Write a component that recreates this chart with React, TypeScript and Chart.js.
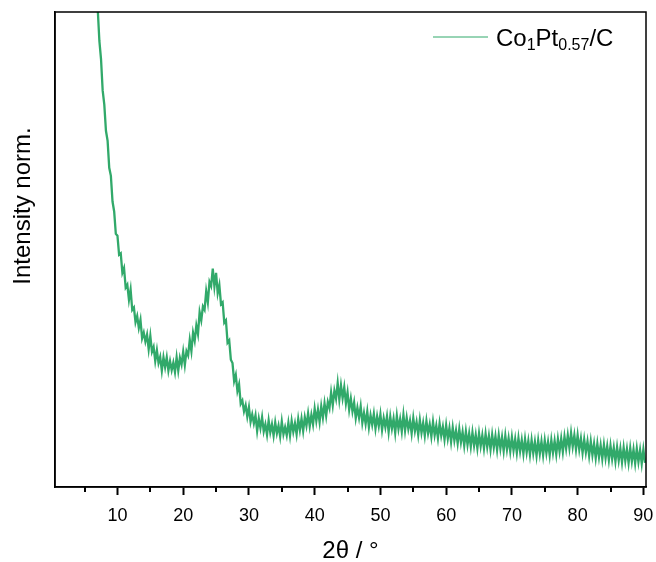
import React, { useEffect, useRef } from 'react';
import { Chart, registerables } from 'chart.js';

Chart.register(...registerables);

// 2θ sampling grid (degrees)
const TWO_THETA_START = 6.75;
const TWO_THETA_STEP = 0.25;

// Normalised intensity, one value per 0.25° step from 6.75°
const INTENSITY: number[] = [
  105.5,
  100.6, 93.9, 90.1, 83.5, // 7
  80.5, 75.0, 72.9, 67.2, // 8
  65.5, 60.1, 58.0, 53.3, // 9
  52.9, 48.9, 49.2, 45.1, // 10
  46.1, 42.0, 42.6, 39.4, // 11
  41.6, 37.3, 37.8, 34.7, // 12
  36.0, 33.5, 35.2, 31.3, // 13
  32.5, 30.6, 32.1, 29.0, // 14
  31.8, 28.5, 29.5, 26.5, // 15
  28.8, 26.1, 27.4, 24.5, // 16
  27.3, 25.2, 27.3, 24.5, // 17
  26.5, 24.6, 26.2, 24.2, // 18
  27.3, 24.5, 27.2, 25.8, // 19
  28.5, 25.7, 28.6, 27.7, // 20
  31.0, 28.6, 32.5, 30.8, // 21
  34.0, 32.2, 36.8, 35.1, // 22
  38.0, 37.3, 41.2, 38.9, // 23
  43.2, 42.3, 46.0, 42.2, // 24
  45.1, 40.8, 42.5, 38.5, // 25
  38.9, 34.6, 35.1, 30.4, // 26
  30.9, 26.8, 26.1, 22.3, // 27
  23.6, 20.2, 21.6, 17.5, // 28
  18.2, 15.9, 17.2, 14.8, // 29
  16.8, 13.7, 15.3, 13.4, // 30
  15.1, 11.8, 14.4, 12.4, // 31
  14.7, 11.7, 13.2, 11.0, // 32
  14.0, 11.5, 13.2, 10.8, // 33
  13.6, 11.3, 12.9, 10.6, // 34
  13.8, 11.1, 12.6, 10.9, // 35
  13.5, 10.8, 13.9, 11.6, // 36
  13.4, 11.1, 14.3, 12.0, // 37
  14.4, 11.8, 14.7, 12.9, // 38
  15.5, 12.8, 15.2, 13.2, // 39
  16.5, 13.9, 16.3, 13.7, // 40
  17.0, 14.6, 17.6, 15.0, // 41
  17.9, 16.6, 19.9, 17.2, // 42
  20.3, 18.6, 21.9, 18.4, // 43
  21.4, 18.7, 21.0, 17.6, // 44
  19.9, 16.3, 18.6, 15.9, // 45
  17.8, 14.5, 16.7, 14.6, // 46
  17.0, 13.5, 15.6, 13.3, // 47
  15.9, 12.6, 15.1, 13.1, // 48
  15.4, 12.3, 14.9, 12.8, // 49
  15.3, 12.0, 14.5, 12.6, // 50
  14.9, 11.6, 14.8, 12.3, // 51
  14.4, 11.4, 15.0, 12.2, // 52
  14.3, 11.7, 15.2, 11.9, // 53
  14.6, 12.2, 14.0, 11.3, // 54
  14.5, 11.8, 13.7, 11.0, // 55
  14.1, 11.4, 13.5, 10.8, // 56
  13.9, 11.3, 13.2, 10.6, // 57
  13.7, 10.9, 12.9, 10.3, // 58
  13.4, 10.8, 12.7, 10.0, // 59
  13.0, 10.2, 12.4, 9.5, // 60
  12.5, 9.8, 11.9, 9.2, // 61
  12.2, 9.4, 11.6, 8.7, // 62
  11.7, 8.9, 11.3, 8.5, // 63
  11.5, 8.7, 11.0, 8.2, // 64
  11.3, 8.6, 10.9, 8.1, // 65
  11.2, 8.4, 10.8, 7.9, // 66
  11.0, 8.3, 10.7, 7.8, // 67
  10.9, 8.1, 10.5, 7.6, // 68
  10.8, 7.9, 10.3, 7.5, // 69
  10.5, 7.7, 10.1, 7.2, // 70
  10.3, 7.5, 9.9, 7.0, // 71
  10.1, 7.3, 9.7, 6.8, // 72
  9.9, 7.1, 9.5, 6.6, // 73
  9.8, 7.0, 9.6, 6.7, // 74
  9.8, 7.1, 9.5, 6.7, // 75
  9.9, 7.2, 9.7, 6.9, // 76
  10.1, 7.5, 10.2, 7.4, // 77
  10.6, 8.1, 10.9, 8.2, // 78
  11.4, 8.5, 10.9, 7.9, // 79
  10.9, 7.9, 10.2, 7.2, // 80
  10.0, 7.3, 9.6, 6.6, // 81
  9.6, 6.7, 9.1, 6.1, // 82
  9.1, 6.3, 8.8, 5.9, // 83
  8.9, 6.1, 8.6, 5.7, // 84
  8.7, 5.9, 8.3, 5.4, // 85
  8.4, 5.6, 8.1, 5.2, // 86
  8.3, 5.5, 8.0, 5.1, // 87
  8.2, 5.4, 7.9, 5.0, // 88
  8.1, 5.3, 7.8, 4.9, // 89
  7.9, 5.1, // 90
];

const X_MIN = 0.5;
const X_MAX = 90.4;
const Y_MIN = 0;
const Y_MAX = 100;
const MAJOR_TICKS = [10, 20, 30, 40, 50, 60, 70, 80, 90];
const MINOR_TICKS = [5, 15, 25, 35, 45, 55, 65, 75, 85];

const X_TITLE = '2θ / °';
const Y_TITLE = 'Intensity norm.';
// legend label parts: [text, isSubscript]
const LEGEND_PARTS: [string, boolean][] = [
  ['Co', false],
  ['1', true],
  ['Pt', false],
  ['0.57', true],
  ['/C', false],
];

const LINE_COLOR = '#31A96A';
const FONT = '"Liberation Sans", Arial, sans-serif';

export default function App() {
  const canvasRef = useRef<HTMLCanvasElement | null>(null);

  useEffect(() => {
    const canvas = canvasRef.current;
    if (!canvas) return;

    const points = INTENSITY.map((v, i) => ({ x: TWO_THETA_START + i * TWO_THETA_STEP, y: v }));

    const decorPlugin = {
      id: 'decor',
      afterDraw(chart: any) {
        const { ctx, chartArea, scales } = chart;
        const xs = scales.x;
        ctx.save();
        // frame
        ctx.strokeStyle = '#000';
        ctx.lineWidth = 1.5;
        ctx.strokeRect(chartArea.left, chartArea.top, chartArea.right - chartArea.left, chartArea.bottom - chartArea.top);
        // minor ticks
        ctx.lineWidth = 2;
        for (const t of MINOR_TICKS) {
          const px = Math.round(xs.getPixelForValue(t));
          ctx.beginPath();
          ctx.moveTo(px, chartArea.bottom);
          ctx.lineTo(px, chartArea.bottom + 5);
          ctx.stroke();
        }
        // x title
        ctx.fillStyle = '#000';
        ctx.font = `24px ${FONT}`;
        ctx.textAlign = 'center';
        ctx.textBaseline = 'alphabetic';
        ctx.fillText(X_TITLE, (chartArea.left + chartArea.right) / 2, 558);
        // y title
        ctx.save();
        ctx.translate(30, 206);
        ctx.rotate(-Math.PI / 2);
        ctx.fillText(Y_TITLE, 0, 0);
        ctx.restore();
        // legend
        ctx.strokeStyle = LINE_COLOR;
        ctx.lineWidth = 1;
        ctx.beginPath();
        ctx.moveTo(433, 37);
        ctx.lineTo(488, 37);
        ctx.stroke();
        ctx.textAlign = 'left';
        let x = 496;
        for (const [txt, sub] of LEGEND_PARTS) {
          ctx.font = sub ? `16px ${FONT}` : `24px ${FONT}`;
          ctx.fillText(txt, x, sub ? 50 : 46);
          x += ctx.measureText(txt).width;
        }
        ctx.restore();
      },
    };

    const chart = new Chart(canvas, {
      type: 'line',
      data: {
        datasets: [
          {
            label: 'Co1Pt0.57/C',
            data: points,
            borderColor: LINE_COLOR,
            backgroundColor: LINE_COLOR,
            borderWidth: 2.3,
            borderJoinStyle: 'miter',
            pointRadius: 0,
            tension: 0,
            fill: false,
          },
        ],
      },
      options: {
        animation: false,
        responsive: false,
        maintainAspectRatio: false,
        layout: { padding: { top: 12, right: 10, left: 0, bottom: 0 } },
        plugins: { legend: { display: false }, tooltip: { enabled: false } },
        scales: {
          x: {
            type: 'linear',
            min: X_MIN,
            max: X_MAX,
            afterBuildTicks: (scale: any) => {
              scale.ticks = MAJOR_TICKS.map((v) => ({ value: v }));
            },
            afterFit: (scale: any) => {
              scale.height = 75;
              scale.paddingLeft = 0;
              scale.paddingRight = 0;
            },
            grid: {
              display: true,
              drawOnChartArea: false,
              drawTicks: true,
              tickLength: 8,
              tickWidth: 2,
              tickColor: '#000',
            },
            border: { display: true, color: '#000', width: 1.5 },
            ticks: {
              color: '#000',
              font: { family: FONT, size: 18 },
              padding: 10,
              maxRotation: 0,
              autoSkip: false,
              callback: (v: any) => String(v),
            },
          },
          y: {
            type: 'linear',
            min: Y_MIN,
            max: Y_MAX,
            afterFit: (scale: any) => {
              scale.width = 55;
              scale.paddingTop = 0;
              scale.paddingBottom = 0;
            },
            grid: { display: false },
            border: { display: true, color: '#000', width: 1.5 },
            ticks: { display: false },
          },
        },
      },
      plugins: [decorPlugin],
    });

    return () => chart.destroy();
  }, []);

  return (
    <div style={{ position: 'fixed', left: 0, top: 0, width: 656, height: 562, background: '#fff' }}>
      <canvas ref={canvasRef} width={656} height={562} style={{ width: 656, height: 562 }} />
    </div>
  );
}
